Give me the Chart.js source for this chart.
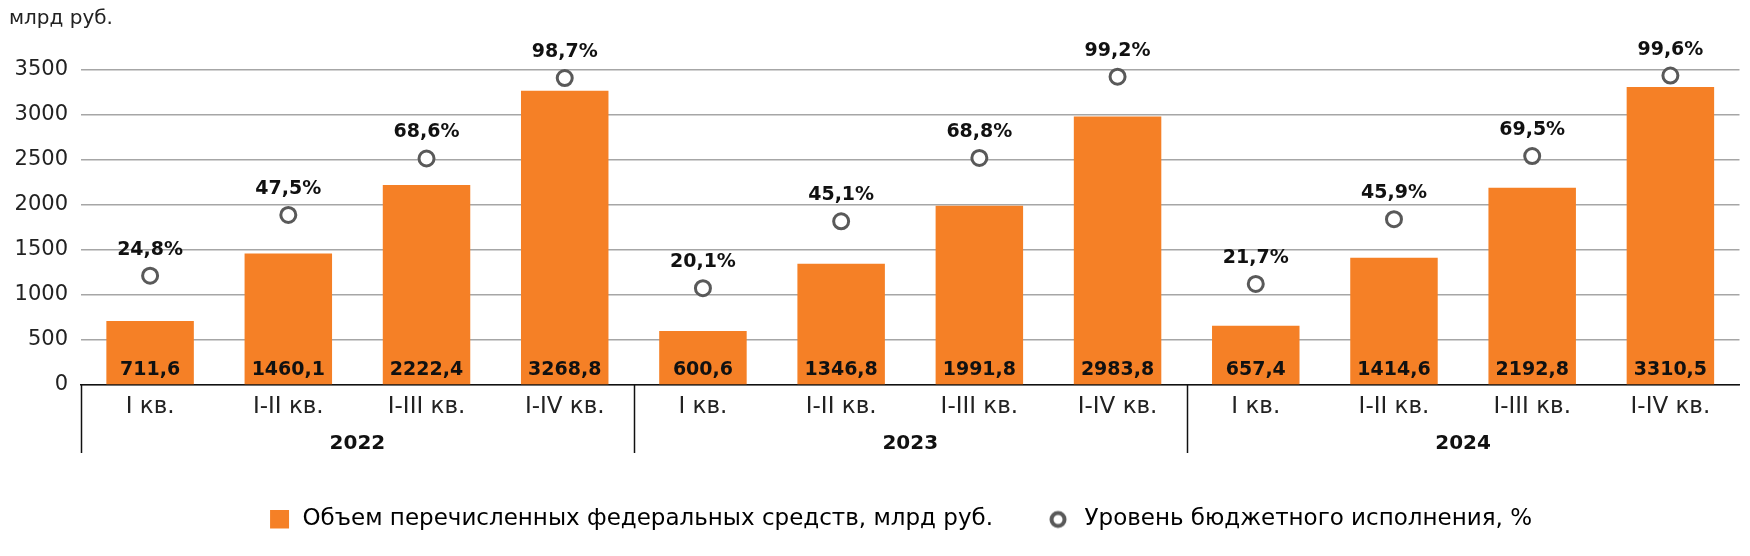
<!DOCTYPE html>
<html lang="ru">
<head>
<meta charset="utf-8">
<title>Объем перечисленных федеральных средств</title>
<script src="https://cdn.jsdelivr.net/npm/chart.js@4.4.1/dist/chart.umd.min.js"></script>
<style>
    html, body { margin: 0; padding: 0; background: #fff; }
    #chart-box { width: 1750px; height: 556px; position: relative; }
</style>
</head>
<body>
<div id="chart-box"><canvas id="budget-chart"></canvas></div>
<script>
// Chart data
const years = ['2022', '2023', '2024'];
const quarters = ['I кв.', 'I-II кв.', 'I-III кв.', 'I-IV кв.'];
const labels = years.flatMap(() => quarters);
const volumes = [711.6, 1460.1, 2222.4, 3268.8, 600.6, 1346.8, 1991.8, 2983.8, 657.4, 1414.6, 2192.8, 3310.5];
const execution = [24.8, 47.5, 68.6, 98.7, 20.1, 45.1, 68.8, 99.2, 21.7, 45.9, 69.5, 99.6];
const yTicks = [0, 500, 1000, 1500, 2000, 2500, 3000, 3500];

const volumeLabel = 'Объем перечисленных федеральных средств, млрд руб.';
const executionLabel = 'Уровень бюджетного исполнения, %';
const unitLabel = 'млрд руб.';

document.addEventListener('DOMContentLoaded', function() {

    const ORANGE = '#F58026';
    const RING = '#595959';
    const FONT = 'DejaVu Sans';

    function fmt(v) {
        return v.toFixed(1).replace('.', ',');
    }

    // Legend markers as small canvases
    function makeSquare() {
        const c = document.createElement('canvas');
        c.width = 24; c.height = 20;
        const g = c.getContext('2d');
        g.fillStyle = ORANGE;
        g.fillRect(3, 0, 19, 19);
        return c;
    }
    function makeRing() {
        const c = document.createElement('canvas');
        c.width = 24; c.height = 20;
        const g = c.getContext('2d');
        g.strokeStyle = RING;
        g.lineWidth = 4;
        g.beginPath();
        g.arc(9, 10, 6.5, 0, Math.PI * 2);
        g.stroke();
        return c;
    }

    // Value labels, year row and group separators
    const annotations = {
        id: 'annotations',
        afterLayout(chart) {
            // nudge the legend so it sits where the original one does
            chart.legend.left += 29;
            chart.legend.right += 29;
        },
        afterDatasetsDraw(chart) {
            const ctx = chart.ctx;
            const x = chart.scales.x;
            const y = chart.scales.y;
            const zero = y.getPixelForValue(0);
            ctx.save();
            ctx.textAlign = 'center';
            ctx.textBaseline = 'middle';
            ctx.fillStyle = '#111';

            // bar values
            ctx.font = 'bold 19px "' + FONT + '"';
            chart.getDatasetMeta(1).data.forEach((bar, i) => {
                ctx.fillText(fmt(volumes[i]), bar.x, zero - 15);
            });

            // percentages above the rings
            chart.getDatasetMeta(0).data.forEach((pt, i) => {
                ctx.fillText(fmt(execution[i]) + '%', pt.x, pt.y - 26);
            });

            // year group labels and separators
            const half = (x.getPixelForValue(1) - x.getPixelForValue(0)) / 2;
            ctx.font = 'bold 20px "' + FONT + '"';
            ctx.strokeStyle = '#111';
            ctx.lineWidth = 1.5;
            years.forEach((yr, g) => {
                const first = x.getPixelForValue(g * 4);
                const last = x.getPixelForValue(g * 4 + 3);
                ctx.fillText(yr, (first + last) / 2, 444);
                const sx = Math.round(first - half) + 0.5;
                ctx.beginPath();
                ctx.moveTo(sx, zero);
                ctx.lineTo(sx, 453);
                ctx.stroke();
            });

            // unit caption
            ctx.textAlign = 'left';
            ctx.font = '20px "' + FONT + '"';
            ctx.fillStyle = '#222';
            ctx.fillText(unitLabel, 9, 19);
            ctx.restore();
        }
    };

    const ctx = document.getElementById('budget-chart').getContext('2d');
    new Chart(ctx, {
        data: {
            labels: labels,
            datasets: [{
                type: 'line',
                label: executionLabel,
                data: execution,
                yAxisID: 'y2',
                showLine: false,
                pointStyle: 'circle',
                pointRadius: 7.5,
                pointHoverRadius: 7.5,
                pointBorderWidth: 3,
                pointBorderColor: RING,
                pointBackgroundColor: '#fff',
                borderColor: RING,
                backgroundColor: '#fff',
                clip: false
            }, {
                type: 'bar',
                label: volumeLabel,
                data: volumes,
                yAxisID: 'y',
                backgroundColor: ORANGE,
                borderWidth: 0,
                barPercentage: 0.633,
                categoryPercentage: 1
            }]
        },
        options: {
            responsive: true,
            maintainAspectRatio: false,
            animation: false,
            events: [],
            layout: {
                padding: { top: 70, left: 0, right: 9, bottom: 15 }
            },
            scales: {
                x: {
                    grid: { display: false, drawTicks: false },
                    border: { display: true, color: '#111', width: 1.5 },
                    ticks: {
                        padding: 8,
                        color: '#222',
                        font: { family: FONT, size: 23 },
                        maxRotation: 0,
                        autoSkip: false
                    },
                    afterFit(scale) { scale.height = 67; }
                },
                y: {
                    min: 0,
                    max: 3500,
                    afterBuildTicks(scale) {
                        scale.ticks = yTicks.map(v => ({ value: v }));
                    },
                    grid: { color: '#a6a6a6', lineWidth: 1.5, drawTicks: false },
                    border: { display: false },
                    ticks: {
                        padding: 13,
                        color: '#222',
                        font: { family: FONT, size: 21 },
                        callback: (value) => String(value)
                    },
                    afterFit(scale) { scale.width = 81; }
                },
                y2: {
                    display: false,
                    min: -16.1,
                    max: 101.7
                }
            },
            plugins: {
                tooltip: { enabled: false },
                legend: {
                    position: 'bottom',
                    labels: {
                        usePointStyle: true,
                        pointStyleWidth: 24,
                        boxHeight: 19,
                        padding: 56,
                        color: '#222',
                        font: { family: FONT, size: 23 },
                        generateLabels() {
                            return [
                                { text: volumeLabel, pointStyle: makeSquare(), datasetIndex: 1, fillStyle: ORANGE, strokeStyle: ORANGE, lineWidth: 0, hidden: false },
                                { text: executionLabel, pointStyle: makeRing(), datasetIndex: 0, fillStyle: '#fff', strokeStyle: RING, lineWidth: 3, hidden: false }
                            ];
                        }
                    }
                }
            }
        },
        plugins: [annotations]
    });
});
</script>
</body>
</html>
